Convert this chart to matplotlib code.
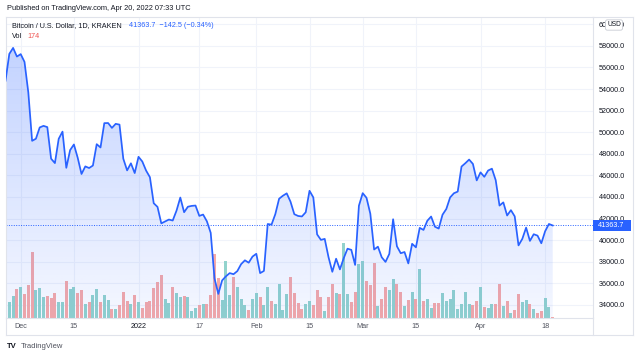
import numpy as np
import pandas as pd
import matplotlib
matplotlib.use("Agg")
import matplotlib.pyplot as plt
import matplotlib.dates as mdates
from matplotlib.transforms import blended_transform_factory
from matplotlib.patches import PathPatch, Rectangle
from matplotlib.lines import Line2D

plt.rcParams['font.family'] = ['Liberation Sans', 'DejaVu Sans']

# ===== DONNÉES =====
dates = pd.date_range("2021-11-27", "2022-04-20", freq="D")
first_open = 53700
close = [
    54766, 57248, 57806, 57005,
    # déc.
    57229, 56509, 53692, 49200, 49396, 50441, 50588, 50471, 47545, 47140,
    49389, 50053, 46702, 48343, 48864, 47632, 46131, 46834, 46681, 46914,
    48890, 48588, 50838, 50850, 50399, 50775, 50701, 47543, 46464, 47120, 46216,
    # janv.
    47722, 47286, 46446, 45833, 43425, 43082, 41558, 41734, 41912, 41821,
    42736, 43949, 42591, 43099, 43177, 43210, 42250, 42375, 41744, 40680,
    36457, 35030, 36276, 36654, 36954, 36852, 37138, 37784, 38138, 37917, 38483,
    # févr.
    38743, 36952, 37154, 41500, 41441, 42412, 43840, 44118, 44338, 43565,
    42407, 42244, 42197, 42586, 44575, 43961, 40538, 40030, 40122, 38431,
    37075, 38286, 37296, 38332, 39214, 39105, 37710, 43193,
    # mars
    44355, 43925, 42452, 39138, 39400, 38420, 37989, 38731, 41941, 39439,
    38794, 38905, 37850, 39666, 39339, 41143, 40951, 41801, 42191, 41247,
    41077, 42358, 42892, 43960, 44348, 44500, 46820, 47128, 47465, 47062, 45538,
    # avr.
    46281, 45868, 46453, 46622, 45555, 43207, 43503, 42287, 42782, 42207,
    39521, 40127, 41166, 39935, 40553, 40424, 39716, 40827, 41503, 41363.7,
]
volume = [
    3255, 2400, 3345, 4350,
    4695, 3555, 4905, 9945, 4200, 4500, 3105, 3345, 3000, 3750,
    2355, 2355, 5505, 4350, 4695, 3750, 4245, 2145, 2355, 3405,
    4350, 2355, 3495, 2700, 1395, 1305, 1905, 3945, 2595, 2145, 3495,
    2400, 1545, 2400, 2505, 4500, 5355, 6405, 2895, 2205, 4605,
    3750, 3150, 3345, 3105, 1050, 1500, 1905, 2145, 2145, 3495,
    9600, 6045, 2745, 8550, 3495, 6150, 4695, 2895, 1905, 1155, 2850,
    3705, 3105, 1905, 4695, 2505, 2100, 5145, 1155, 3555, 6105,
    3750, 2205, 1305, 2100, 2505, 1905, 4155, 3195, 1005, 3150,
    5145, 3705, 3645, 11250, 3645, 2400, 3945, 8055,
    8505, 5550, 4905, 8205, 1800, 2895, 4695, 4155, 5850, 5145,
    3945, 1755, 2655, 3855, 2925, 7305, 2625, 2925, 1455, 2205,
    2205, 3705, 2505, 2895, 4155, 1305, 2100, 3855, 2100, 1905, 2595,
    4695, 1650, 1455, 2100, 2100, 5055, 1755, 2505, 705, 1245,
    3645, 2355, 2700, 2145, 1395, 705, 1095, 3000, 1650, 174,
]
tick_dates = ["2021-12-01", "2021-12-15", "2022-01-01", "2022-01-17", "2022-02-01",
              "2022-02-15", "2022-03-01", "2022-03-15", "2022-04-01", "2022-04-18"]
tick_labels = ["Dec", "15", "2022", "17", "Feb", "15", "Mar", "15", "Apr", "18"]
price_ticks = list(range(34000, 60001, 2000))
last_price = close[-1]
# ===================

W, H = 640, 358
fig = plt.figure(figsize=(W / 100, H / 100), dpi=100)
fig.patch.set_facecolor("white")

left, right, top, bottom = 6, 593, 17, 318
rect = [left / W, (H - bottom) / H, (right - left) / W, (bottom - top) / H]
axv = fig.add_axes(rect, zorder=1)
ax = fig.add_axes(rect, zorder=2)
ax.patch.set_alpha(0)

x = mdates.date2num(dates)
xlim = (x[0] + 0.13, x[-1] + 10.6)
ylim = (32796, 60667)
tx = mdates.date2num(pd.to_datetime(tick_dates))

# volume
prev = np.r_[first_open, close[:-1]]
up = np.array(close) >= prev
bar_cols = np.where(up, "#92d3cd", "#f7a9a7")
axv.bar(x, volume, width=0.78, color=bar_cols, zorder=2)
axv.set_xlim(xlim)
axv.set_ylim(0, 301 * 150)
axv.set_xticks([])
axv.set_yticks([])
for s in axv.spines.values():
    s.set_visible(False)

# grille
for t in tx:
    axv.axvline(t, color="#f0f3fa", lw=0.8, zorder=0)
tr = blended_transform_factory(axv.transAxes, ax.transData)
for p in price_ticks:
    axv.plot([0, 1], [p, p], transform=tr, color="#f0f3fa", lw=0.8, zorder=0)

# surface en dégradé
rgb = matplotlib.colors.to_rgb("#2962ff")
grad = np.zeros((256, 1, 4))
grad[..., :3] = rgb
grad[:, 0, 3] = np.linspace(0.05, 0.28, 256)
im = ax.imshow(grad, extent=[xlim[0], xlim[1], ylim[0], max(close)],
               origin="lower", aspect="auto", zorder=1)
poly = ax.fill_between(x, close, ylim[0], facecolor="none", lw=0)
clip = PathPatch(poly.get_paths()[0], transform=ax.transData, fc="none", ec="none")
ax.add_patch(clip)
im.set_clip_path(clip)

ax.plot(x, close, color="#2962ff", lw=1.25, zorder=3)
ax.axhline(last_price, color="#2962ff", lw=0.7, ls=(0, (1, 1.5)), zorder=2)

ax.set_xlim(xlim)
ax.set_ylim(ylim)
ax.yaxis.tick_right()
ax.set_yticks(price_ticks)
ax.set_yticklabels([f"{p:.1f}" for p in price_ticks])
ax.tick_params(axis="y", length=0, pad=4.3, labelsize=5.2, labelcolor="#131722")
ax.set_xticks(tx)
ax.set_xticklabels(tick_labels)
ax.tick_params(axis="x", length=0, pad=3.8, labelsize=5.2, labelcolor="#50535e")
for lab in ax.get_xticklabels():
    if lab.get_text() == "2022":
        lab.set_color("#131722")
for s in ax.spines.values():
    s.set_color("#e0e3eb")
    s.set_linewidth(0.8)

# étiquette du dernier prix
trp = blended_transform_factory(ax.transAxes, ax.transData)
ax.add_patch(Rectangle((1.0, last_price - 509), 38 / (right - left), 1018,
                       transform=trp, clip_on=False, fc="#2962ff", ec="none", zorder=5))
ax.text(1.0 + 5 / (right - left), last_price, f"{last_price:.1f}", transform=trp,
        ha="left", va="center", color="white", fontsize=5.2, clip_on=False, zorder=6)

# cadre extérieur
def fline(xs, ys):
    fig.add_artist(Line2D([v / W for v in xs], [1 - v / H for v in ys],
                          color="#e0e3eb", lw=0.8))
fline([593, 633], [17, 17])
fline([633, 633], [17, 335])
fline([6, 633], [335, 335])
fline([6, 6], [318, 335])
fline([593, 593], [318, 335])

fig.text(614 / W, 1 - 25 / H, "USD", ha="center", va="center", fontsize=4.8,
         color="#131722",
         bbox=dict(boxstyle="round,pad=0.25,rounding_size=0.3", fc="white",
                   ec="#c8cbd3", lw=0.6))

# textes
fig.text(7 / W, 1 - 8 / H, "Published on TradingView.com, Apr 20, 2022 07:33 UTC",
         fontsize=5.3, color="#131722", va="center")
fig.text(12 / W, 1 - 25.5 / H, "Bitcoin / U.S. Dollar, 1D, KRAKEN",
         fontsize=5.2, color="#131722", va="center")
fig.text(129 / W, 1 - 25.5 / H, "41363.7  \u2212142.5 (\u22120.34%)",
         fontsize=5.2, color="#2962ff", va="center")
fig.text(12 / W, 1 - 36.5 / H, "Vol", fontsize=5.2, color="#131722", va="center")
fig.text(27 / W, 1 - 36.5 / H, "174", fontsize=5.2, color="#ef5350", va="center")
fig.text(7 / W, 1 - 346 / H, "TV", fontsize=5.5, fontweight="bold",
         color="#131722", va="center")
fig.text(21 / W, 1 - 346 / H, "TradingView", fontsize=5.5, color="#50535e", va="center")

fig.savefig("out.png", dpi=100)
